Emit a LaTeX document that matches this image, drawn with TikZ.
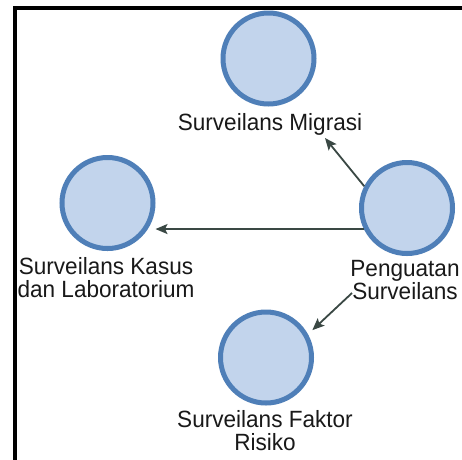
\documentclass[tikz,border=0pt]{standalone}
\usepackage{fontspec}
\setmainfont{Liberation Sans}[FakeStretch=0.96]
\usetikzlibrary{arrows.meta,calc}
\definecolor{ringblue}{RGB}{79,127,184}
\definecolor{fillblue}{RGB}{194,212,236}
\definecolor{arrowgray}{RGB}{58,72,68}
\definecolor{textgray}{RGB}{25,25,25}
\tikzset{
  bubble/.style={circle, draw=ringblue, fill=fillblue, line width=5pt, minimum size=91pt, inner sep=0pt},
  lbl/.style={align=center, anchor=base, inner sep=0pt, text=textgray, font=\fontsize{23.5}{22.8}\selectfont},
  arr/.style={draw=arrowgray, line width=1.8pt, -{Stealth[length=12pt,width=10pt,inset=2.5pt]}}
}
\begin{document}
\begin{tikzpicture}[x=1pt,y=-1pt]
\useasboundingbox (0,0) rectangle (462,459);
\fill[white] (0,0) rectangle (462,459);
\draw[line width=4pt, black] (15,8) rectangle (480,480);
% circles
\node[bubble] (T) at (268.5,58.5) {};
\node[bubble] (L) at (107.5,203) {};
\node[bubble] (R) at (407,208) {};
\node[bubble] (B) at (266,357.5) {};
% labels (anchor = baseline of last line)
\node[lbl] (lT) at (270,130) {Surveilans Migrasi};
\node[lbl] (lL) at (106,297.5) {Surveilans Kasus\\dan Laboratorium};
\node[lbl] (lR) at (405,299) {Penguatan\\Surveilans};
\node[lbl] (lB) at (265,450) {Surveilans Faktor\\Risiko};
% arrow ends
\coordinate (mT) at (325,138);
\coordinate (sB) at (352,293);
% connectors
\draw[arr] (R.153) -- (mT);
\draw[arr] (R.206) -- (R.206 -| L.east);
\draw[arr, shorten >=6pt] (sB) -- (B.29);
\end{tikzpicture}
\end{document}
